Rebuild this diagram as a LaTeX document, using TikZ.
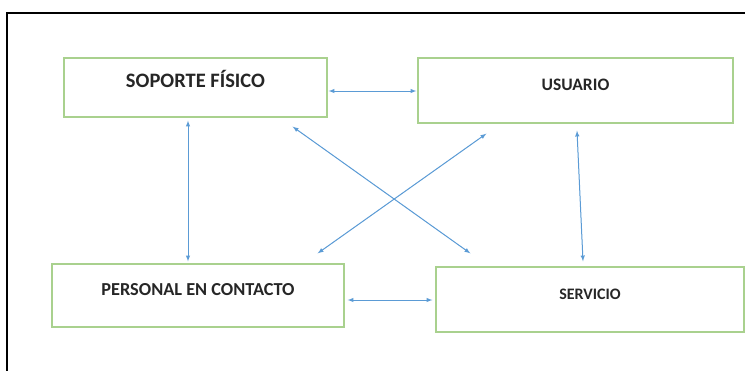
\documentclass[tikz,border=0pt]{standalone}
\usepackage{fontspec}
\setmainfont{Carlito}
\usetikzlibrary{arrows}
\definecolor{boxgreen}{RGB}{169, 209, 142}
\definecolor{arcblue}{RGB}{91, 155, 213}
\definecolor{textgray}{RGB}{38, 38, 38}
\tikzstyle{entity}=[draw=boxgreen,line width=1.3pt,text=textgray,font=\bfseries,text height=6pt,text depth=6pt,inner sep=0pt]
\tikzstyle{arc}=[<->,>=latex,draw=arcblue,fill=arcblue,line width=1pt]
\tikzstyle{frame}=[draw=black,line width=1.8pt]

\begin{document}
\begin{tikzpicture}[x=1pt,y=1pt]
\useasboundingbox (0,0) rectangle (745,-370);
\clip (0,0) rectangle (745,-370);
\draw[frame] (7,-13) rectangle (780,-400);

\node[entity,minimum width=263pt,minimum height=59pt,font=\bfseries\fontsize{20.5}{22}\selectfont] (soporte) at (195.5,-87.5) {SOPORTE FÍSICO};
\node[entity,minimum width=315pt,minimum height=65pt,font=\bfseries\fontsize{17.5}{20}\selectfont] (usuario) at (575.5,-90.5) {USUARIO};
\node[entity,minimum width=292pt,minimum height=63pt,font=\bfseries\fontsize{18.3}{20}\selectfont] (personal) at (198,-295.5) {PERSONAL EN CONTACTO};
\node[entity,minimum width=308pt,minimum height=65pt,font=\bfseries\fontsize{16}{18}\selectfont] (servicio) at (590,-299.5) {SERVICIO};

\coordinate (SEAST) at ([shift={(1pt,-3.5pt)}]soporte.east);
\coordinate (UWEST) at ([shift={(-1pt,-0.5pt)}]usuario.west);
\coordinate (SSOUTH) at ([shift={(-7.5pt,-3pt)}]soporte.south);
\coordinate (PNORTH) at ([shift={(-10pt,2pt)}]personal.north);
\coordinate (USOUTH) at ([shift={(1.5pt,-7pt)}]usuario.south);
\coordinate (SVNORTH) at ([shift={(-7pt,5pt)}]servicio.north);
\coordinate (SSOUTHEAST) at ([shift={(-35pt,-9pt)}]soporte.south east);
\coordinate (SVNORTHWEST) at ([shift={(35pt,13pt)}]servicio.north west);
\coordinate (USOUTHWEST) at ([shift={(69pt,-10pt)}]usuario.south west);
\coordinate (PNORTHEAST) at ([shift={(-27pt,10pt)}]personal.north east);
\coordinate (PEAST) at ([shift={(3pt,-4.5pt)}]personal.east);
\coordinate (SVWEST) at ([shift={(-3pt,-0.5pt)}]servicio.west);

\draw[arc] (SEAST) -- (UWEST);
\draw[arc] (SSOUTH) -- (PNORTH);
\draw[arc] (USOUTH) -- (SVNORTH);
\draw[arc] (SSOUTHEAST) -- (SVNORTHWEST);
\draw[arc] (USOUTHWEST) -- (PNORTHEAST);
\draw[arc] (PEAST) -- (SVWEST);

\end{tikzpicture}
\end{document}
